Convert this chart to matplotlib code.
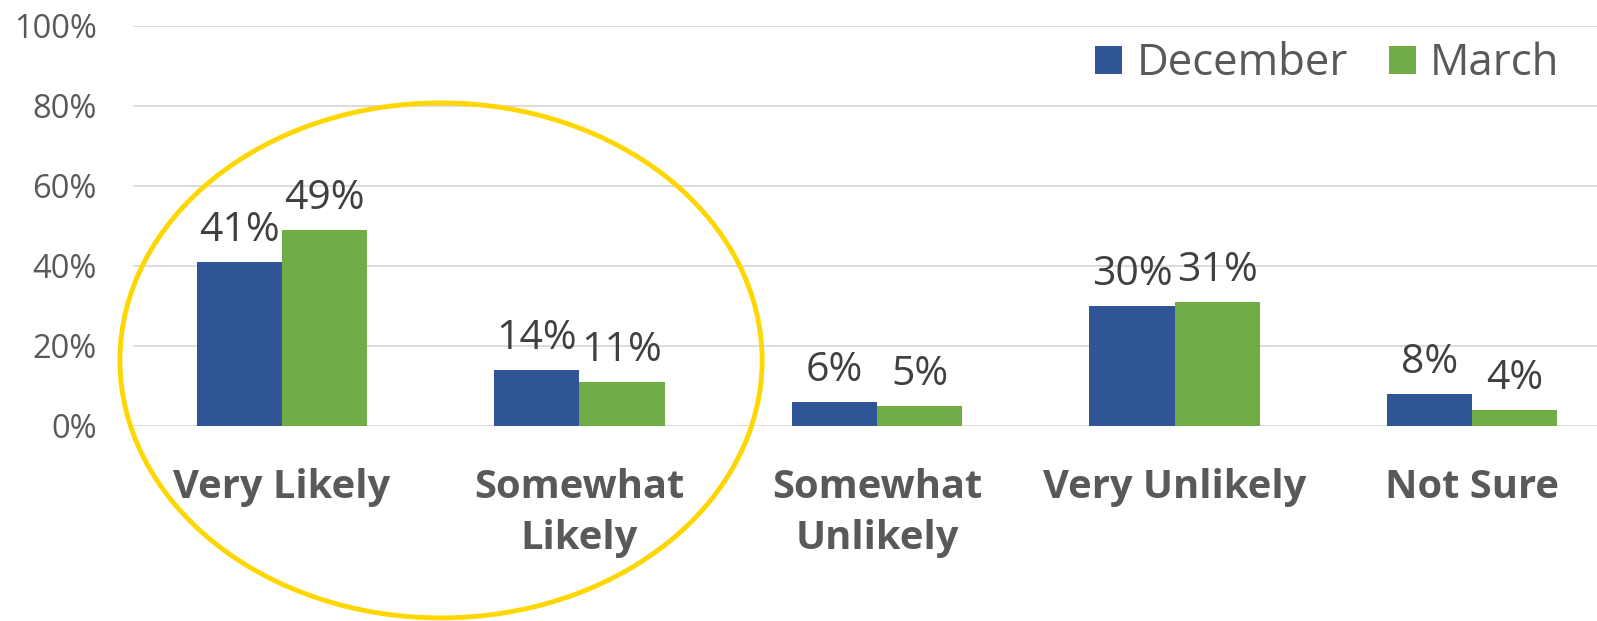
import numpy as np
import matplotlib
matplotlib.use('Agg')
import matplotlib.pyplot as plt
from matplotlib.patches import Ellipse

plt.rcParams['font.family'] = ['Open Sans', 'DejaVu Sans']

categories = ['Very Likely', 'Somewhat\nLikely', 'Somewhat\nUnlikely', 'Very Unlikely', 'Not Sure']
december = [41, 14, 6, 30, 8]
march = [49, 11, 5, 31, 4]
series_names = ['December', 'March']
yticks = [0, 20, 40, 60, 80, 100]

blue = '#2F5597'
green = '#70AD47'
grey = '#595959'

W, H = 1597, 621
fig = plt.figure(figsize=(W / 100, H / 100), dpi=100)
# axes spans 133px..1621px (runs past the right edge like the source)
ax = fig.add_axes([133 / W, 1 - 426 / H, 1488 / W, 400 / H])

x = np.arange(len(categories))
bw = 0.286
b1 = ax.bar(x - bw / 2, december, bw, color=blue, label=series_names[0], zorder=3)
b2 = ax.bar(x + bw / 2, march, bw, color=green, label=series_names[1], zorder=3)

for bars, vals in [(b1, december), (b2, march)]:
    for r, v in zip(bars, vals):
        ax.annotate(f'{v}%', (r.get_x() + r.get_width() / 2, v),
                    xytext=(0, 15), textcoords='offset points',
                    ha='center', va='baseline', fontsize=29.5, color='#404040')

ax.set_xlim(-0.5, len(categories) - 0.5)
ax.set_ylim(0, 100)
ax.set_yticks(yticks)
ax.set_yticklabels([f'{t}%' for t in yticks], fontsize=23.5, color=grey)
ax.set_xticks(x)
ax.set_xticklabels(categories, fontsize=28.7, fontweight='bold', color=grey,
                   linespacing=1.42)
ax.tick_params(axis='both', length=0)
ax.tick_params(axis='y', pad=26)
ax.tick_params(axis='x', pad=30)
for s in ax.spines.values():
    s.set_visible(False)
ax.grid(axis='y', color='#D9D9D9', linewidth=1.3, zorder=0)
ax.set_axisbelow(True)

# yellow highlight around the "likely" groups
ell = Ellipse((0.535, 16.4), 2.158, 128.75, fill=False, edgecolor='#FFD700',
              linewidth=3.5, clip_on=False, zorder=5)
ax.add_patch(ell)

fig.legend(handles=[b1, b2], loc='center left',
           bbox_to_anchor=(1073 / W, 1 - 64 / H), ncol=2, frameon=False,
           fontsize=31.5, handlelength=0.62, handleheight=0.62,
           handletextpad=0.33, columnspacing=0.93, borderpad=0,
           labelcolor=grey)

fig.savefig('out.png', dpi=100, facecolor='white')
